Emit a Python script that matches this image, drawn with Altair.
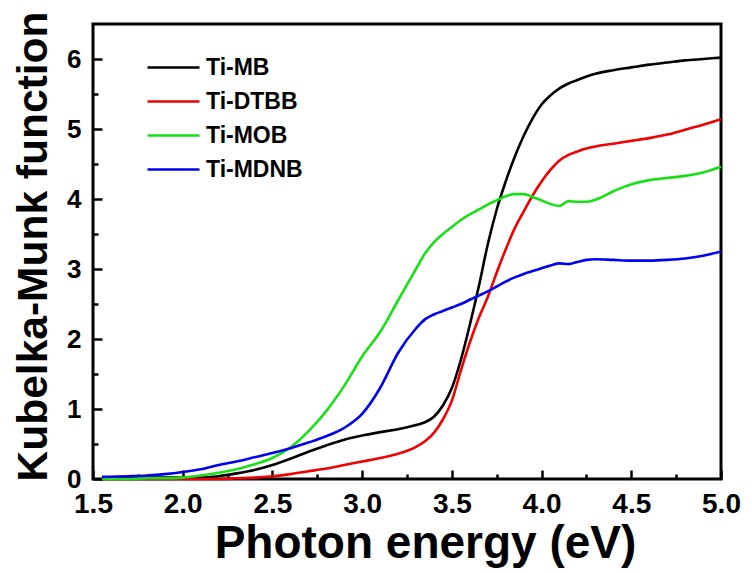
import altair as alt
import pandas as pd

energy = [1.55, 1.7, 1.8, 1.9, 2.0, 2.1, 2.2, 2.3, 2.4, 2.5, 2.6, 2.7, 2.8, 2.9, 3.0,
          3.1, 3.2, 3.3, 3.35, 3.4, 3.45, 3.5, 3.55, 3.6, 3.65, 3.7, 3.75, 3.8, 3.85,
          3.9, 3.95, 4.0, 4.05, 4.1, 4.15, 4.2, 4.25, 4.3, 4.4, 4.5, 4.6, 4.7, 4.8, 4.9, 5.0]

ti_mb = [0.02, 0.02, 0.02, 0.02, 0.02, 0.02, 0.04, 0.08, 0.13, 0.20, 0.29, 0.39, 0.48, 0.56, 0.62,
         0.67, 0.71, 0.77, 0.81, 0.89, 1.05, 1.30, 1.70, 2.20, 2.75, 3.35, 3.85, 4.25, 4.60,
         4.90, 5.15, 5.35, 5.48, 5.58, 5.65, 5.70, 5.75, 5.79, 5.84, 5.88, 5.92, 5.95, 5.98, 6.00, 6.02]

ti_dtbb = [0.00, 0.00, 0.00, 0.00, 0.00, 0.00, 0.00, 0.01, 0.02, 0.04, 0.07, 0.11, 0.15, 0.20, 0.25,
           0.30, 0.36, 0.46, 0.54, 0.66, 0.85, 1.12, 1.55, 1.95, 2.30, 2.60, 2.95, 3.28, 3.58,
           3.82, 4.05, 4.25, 4.42, 4.55, 4.63, 4.68, 4.72, 4.75, 4.79, 4.83, 4.87, 4.92, 4.99, 5.06, 5.14]

ti_mob = [0.00, 0.00, 0.01, 0.01, 0.02, 0.05, 0.09, 0.14, 0.21, 0.30, 0.45, 0.68, 0.97, 1.33, 1.75,
          2.10, 2.55, 3.00, 3.22, 3.38, 3.50, 3.60, 3.70, 3.78, 3.85, 3.92, 3.98, 4.04, 4.07,
          4.07, 4.03, 3.98, 3.93, 3.90, 3.97, 3.96, 3.96, 3.99, 4.11, 4.21, 4.27, 4.30, 4.33, 4.38, 4.46]

ti_mdnb = [0.03, 0.04, 0.05, 0.07, 0.10, 0.14, 0.20, 0.25, 0.31, 0.37, 0.44, 0.52, 0.61, 0.73, 0.93,
           1.30, 1.80, 2.15, 2.28, 2.35, 2.40, 2.45, 2.50, 2.56, 2.62, 2.68, 2.75, 2.82, 2.88,
           2.93, 2.97, 3.01, 3.05, 3.08, 3.07, 3.10, 3.13, 3.14, 3.13, 3.12, 3.12, 3.13, 3.15, 3.19, 3.25]

series_names = ["Ti-MB", "Ti-DTBB", "Ti-MOB", "Ti-MDNB"]
series_values = [ti_mb, ti_dtbb, ti_mob, ti_mdnb]
series_colors = ["#000000", "#f00000", "#18e018", "#0000f0"]

x_major_ticks = [1.5, 2.0, 2.5, 3.0, 3.5, 4.0, 4.5, 5.0]
x_minor_ticks = [1.75, 2.25, 2.75, 3.25, 3.75, 4.25, 4.75]
y_major_ticks = [0, 1, 2, 3, 4, 5, 6]
y_minor_ticks = [0.5, 1.5, 2.5, 3.5, 4.5, 5.5]

rows = []
for name, vals in zip(series_names, series_values):
    for e, v in zip(energy, vals):
        rows.append({"energy": e, "km": v, "sample": name})
df = pd.DataFrame(rows)

FONT = "Liberation Sans"
W, H = 628, 455
MAJ, MIN = 9, 5

xscale = alt.Scale(domain=[1.5, 5.0], nice=False, zero=False)
yscale = alt.Scale(domain=[0, 6.5], nice=False)

lines = alt.Chart(df).mark_line(strokeWidth=2.6, interpolate="monotone").encode(
    x=alt.X("energy:Q", scale=xscale,
            axis=alt.Axis(orient="bottom", values=x_major_ticks, format=".1f",
                          offset=-MAJ, ticks=True, tickSize=MAJ, tickWidth=2.5, tickColor="black",
                          domain=False, grid=False, labelFont=FONT, labelFontWeight="bold",
                          labelFontSize=28, labelColor="black", labelPadding=11,
                          labelFlush=False, labelOverlap=False,
                          title="Photon energy (eV)", titleFont=FONT,
                          titleFontWeight="bold", titleFontSize=46, titleColor="black",
                          titleX=332, titleY=78 + MAJ, titleBaseline="alphabetic",
                          titleAnchor="middle")),
    y=alt.Y("km:Q", scale=yscale,
            axis=alt.Axis(orient="left", values=y_major_ticks, format="d",
                          offset=-MAJ, ticks=True, tickSize=MAJ, tickWidth=2.5, tickColor="black",
                          domain=False, grid=False, labelFont=FONT, labelFontWeight="bold",
                          labelFontSize=26, labelColor="black", labelPadding=12,
                          labelFlush=False, labelOverlap=False,
                          title="Kubelka-Munk function", titleFont=FONT,
                          titleFontWeight="bold", titleFontSize=42.5, titleColor="black",
                          titleX=-47 - MAJ, titleY=222, titleBaseline="alphabetic",
                          titleAngle=270)),
    color=alt.Color("sample:N",
                    scale=alt.Scale(domain=series_names, range=series_colors),
                    sort=series_names,
                    legend=alt.Legend(title=None, orient="none", legendX=59, legendY=22,
                                      symbolType="M-1.3,0H1.3", symbolSize=1600,
                                      symbolStrokeWidth=2.6, labelFont=FONT,
                                      labelFontWeight="bold", labelFontSize=23,
                                      labelColor="black", labelOffset=11, rowPadding=0,
                                      padding=0)),
)

xminor = alt.Chart(pd.DataFrame({"t": x_minor_ticks})).mark_point(opacity=0).encode(
    x=alt.X("t:Q", scale=xscale,
            axis=alt.Axis(orient="bottom", values=x_minor_ticks, offset=-MIN, ticks=True,
                          tickSize=MIN, tickWidth=2.5, tickColor="black", labels=False,
                          domain=False, grid=False, title=None)))
yminor = alt.Chart(pd.DataFrame({"t": y_minor_ticks})).mark_point(opacity=0).encode(
    y=alt.Y("t:Q", scale=yscale,
            axis=alt.Axis(orient="left", values=y_minor_ticks, offset=-MIN, ticks=True,
                          tickSize=MIN, tickWidth=2.5, tickColor="black", labels=False,
                          domain=False, grid=False, title=None)))

chart = alt.layer(lines, xminor, yminor).resolve_axis(
    x="independent", y="independent"
).properties(
    width=W, height=H,
    autosize=alt.AutoSizeParams(type="none"),
    padding={"left": 93, "top": 24, "right": 31, "bottom": 94},
    background="white",
).configure_view(stroke="black", strokeWidth=3)

chart.save("out.html", embed_options={"renderer": "svg", "actions": False})
